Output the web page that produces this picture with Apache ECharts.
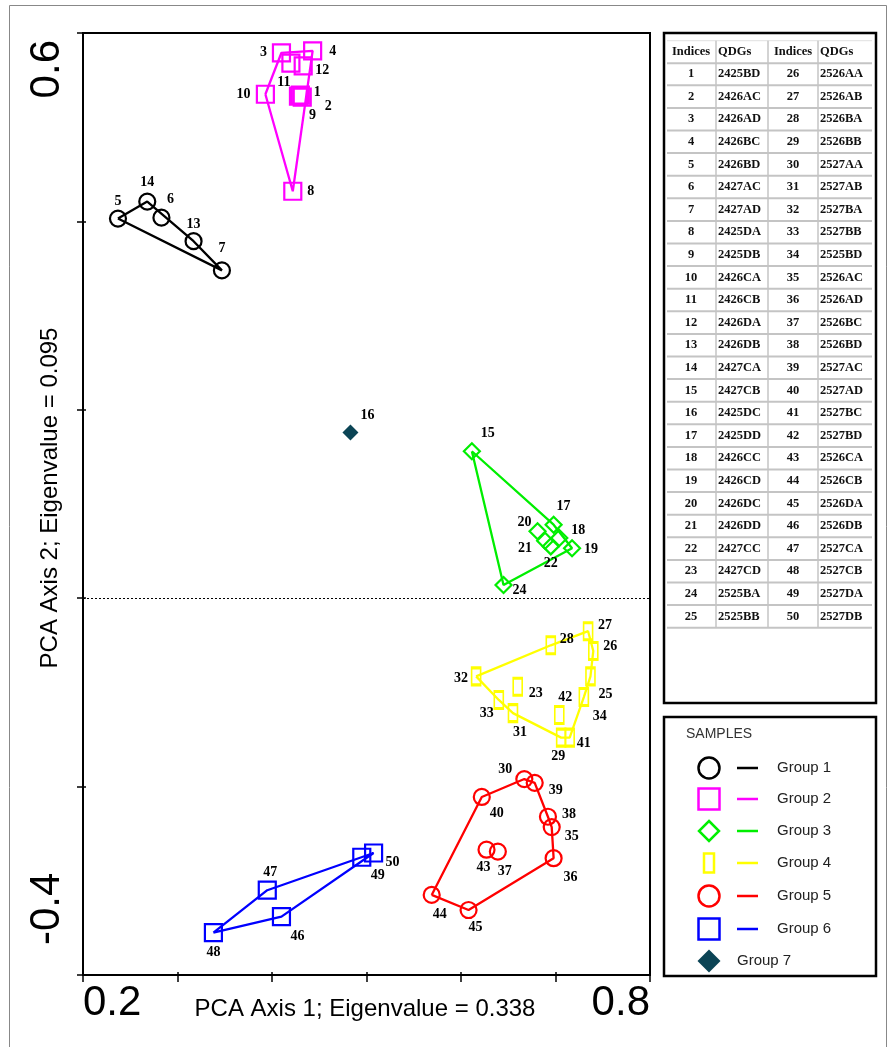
<!DOCTYPE html>
<html><head><meta charset="utf-8">
<script src="https://cdn.jsdelivr.net/npm/echarts@6/dist/echarts.min.js"></script>
<style>html,body{margin:0;padding:0;background:#fff}#c{width:888px;height:1047px}</style>
</head><body><div id="c"></div>
<script>
// ---------- DATA ----------
const groupNames = ['Group 1','Group 2','Group 3','Group 4','Group 5','Group 6','Group 7'];
// [sample index, PCA axis 1, PCA axis 2]
const group1 = [[5,0.237,0.403],[14,0.268,0.421],[6,0.283,0.404],[13,0.317,0.379],[7,0.347,0.348]];
const group2 = [[1,0.430,0.534],[2,0.432,0.532],[3,0.410,0.579],[4,0.443,0.581],[8,0.422,0.432],[9,0.428,0.533],[10,0.393,0.535],[11,0.420,0.568],[12,0.433,0.565]];
const group3 = [[15,0.6115,0.156],[17,0.698,0.078],[18,0.704,0.064],[19,0.7175,0.053],[20,0.681,0.071],[21,0.689,0.061],[22,0.695,0.055],[24,0.645,0.014]];
const group4 = [[23,0.660,-0.094],[25,0.737,-0.083],[26,0.740,-0.056],[27,0.7345,-0.035],[28,0.695,-0.050],[29,0.706,-0.148],[31,0.655,-0.122],[32,0.616,-0.083],[33,0.640,-0.108],[34,0.730,-0.105],[41,0.715,-0.148],[42,0.704,-0.124]];
const group5 = [[30,0.667,-0.192],[35,0.696,-0.243],[36,0.698,-0.276],[37,0.639,-0.269],[38,0.692,-0.232],[39,0.678,-0.196],[40,0.622,-0.211],[43,0.627,-0.267],[44,0.569,-0.315],[45,0.608,-0.331]];
const group6 = [[46,0.410,-0.338],[47,0.395,-0.310],[48,0.338,-0.355],[49,0.495,-0.275],[50,0.5075,-0.2705]];
const group7 = [[16,0.483,0.176]];
const xTickLabels = ['0.2','0.8'];
const yTickLabels = ['0.6','-0.4'];
const xAxisTitle = 'PCA Axis 1; Eigenvalue = 0.338';
const yAxisTitle = 'PCA Axis 2; Eigenvalue = 0.095';
const tableHeaders = ['Indices','QDGs','Indices','QDGs'];
const qdgCodes = ['2425BD','2426AC','2426AD','2426BC','2426BD','2427AC','2427AD','2425DA','2425DB','2426CA',
 '2426CB','2426DA','2426DB','2427CA','2427CB','2425DC','2425DD','2426CC','2426CD','2426DC',
 '2426DD','2427CC','2427CD','2525BA','2525BB','2526AA','2526AB','2526BA','2526BB','2527AA',
 '2527AB','2527BA','2527BB','2525BD','2526AC','2526AD','2526BC','2526BD','2527AC','2527AD',
 '2527BC','2527BD','2526CA','2526CB','2526DA','2526DB','2527CA','2527CB','2527DA','2527DB'];
const legendTitle = 'SAMPLES';

// ---------- STYLE ----------
const groups = [group1,group2,group3,group4,group5,group6,group7];
const groupStyles = [
  {color:'#000000', symbol:'circle', size:16, hollow:true},
  {color:'#ff00ff', symbol:'rect', size:17, hollow:true},
  {color:'#00ee00', symbol:'diamond', size:16, hollow:true},
  {color:'#ffff00', symbol:'rect', size:[9,17], hollow:true},
  {color:'#ff0000', symbol:'circle', size:16, hollow:true},
  {color:'#0000ff', symbol:'rect', size:17, hollow:true},
  {color:'#0b4455', symbol:'diamond', size:16, hollow:false}
];
const labelOffsets = {
  5:[0,-17],14:[0,-19],6:[9,-18],13:[0,-17],7:[0,-22],
  3:[-18,0],4:[20,0],11:[-7,19],12:[19,4],10:[-22,0],1:[17,-3],2:[26,9],9:[14,19],8:[18,0],
  16:[17,-17],
  15:[16,-18],17:[10,-18],20:[-13,-9],18:[19,-8],19:[19,1],21:[-20,8],22:[0,17],24:[16,5],
  27:[17,-6],28:[16,-6],26:[17,-5],32:[-15,2],23:[18,7],42:[6,-18],25:[15,18],34:[16,19],33:[-12,13],31:[7,19],41:[14,6],29:[-3,19],
  30:[-19,-10],39:[21,8],40:[15,16],38:[21,-2],35:[20,9],43:[-3,18],37:[7,20],36:[17,19],44:[8,19],45:[7,17],
  47:[3,-18],46:[16,20],48:[0,20],49:[16,18],50:[19,9]
};

function hull(pts){
  const p = pts.map(d=>[d[1],d[2]]).sort((a,b)=>a[0]-b[0]||a[1]-b[1]);
  if(p.length<3) return p;
  const cross=(o,a,b)=>(a[0]-o[0])*(b[1]-o[1])-(a[1]-o[1])*(b[0]-o[0]);
  const lo=[],up=[];
  for(const q of p){while(lo.length>=2&&cross(lo[lo.length-2],lo[lo.length-1],q)<=0)lo.pop();lo.push(q);}
  for(let i=p.length-1;i>=0;i--){const q=p[i];while(up.length>=2&&cross(up[up.length-2],up[up.length-1],q)<=0)up.pop();up.push(q);}
  up.pop();lo.pop();
  const h=lo.concat(up); h.push(h[0]); return h;
}

const chart = echarts.init(document.getElementById('c'), null, {renderer:'canvas'});
const series = [];
groups.forEach((g,i)=>{
  const st = groupStyles[i];
  if(i<6){
    series.push({type:'line', name:groupNames[i]+' hull', data:hull(g), symbol:'none', silent:true, z:2,
      lineStyle:{color:st.color, width:2.3}, animation:false});
  }
  series.push({type:'scatter', name:groupNames[i], symbol:st.symbol, symbolSize:st.size, z:3,
    itemStyle:{color: st.hollow?'rgba(0,0,0,0)':st.color, borderColor:st.color, borderWidth: st.hollow?2.2:0, opacity:1},
    label:{show:true, position:'inside', formatter:'{b}', color:'#000', fontFamily:'Liberation Serif', fontWeight:'bold', fontSize:14},
    data:g.map(d=>({name:String(d[0]), value:[d[1],d[2]], label:{offset:labelOffsets[d[0]]||[0,-16]}})),
    animation:false});
});
series[0].markLine = {silent:true, symbol:'none', label:{show:false}, animation:false,
  lineStyle:{type:[2,2], color:'#000', width:1}, data:[{yAxis:0}]};

const axisCommon = {type:'value', splitLine:{show:false}, axisLabel:{show:false}};
chart.setOption({
  backgroundColor:'#fff',
  animation:false,
  grid:{left:83, top:33, width:567, height:942, show:true, borderColor:'#000', borderWidth:2, backgroundColor:'transparent'},
  xAxis:[
    Object.assign({}, axisCommon, {min:0.2, max:0.8, interval:0.1, position:'bottom',
      axisLine:{show:true, onZero:false, lineStyle:{color:'#000', width:2}},
      axisTick:{show:true, length:7, lineStyle:{color:'#000', width:1.5}}}),
    Object.assign({}, axisCommon, {min:0.2, max:0.8, interval:0.1, position:'bottom', offset:0,
      axisLine:{show:true, onZero:false, lineStyle:{color:'rgba(0,0,0,0)', width:1}},
      axisTick:{show:true, inside:true, length:3, lineStyle:{color:'#000', width:1.5}}})
  ],
  yAxis:[
    Object.assign({}, axisCommon, {min:-0.4, max:0.6, interval:0.2, position:'left',
      axisLine:{show:true, onZero:false, lineStyle:{color:'#000', width:2}},
      axisTick:{show:true, length:6, lineStyle:{color:'#000', width:1.5}}}),
    Object.assign({}, axisCommon, {min:-0.4, max:0.6, interval:0.2, position:'left', offset:0,
      axisLine:{show:true, onZero:false, lineStyle:{color:'rgba(0,0,0,0)', width:1}},
      axisTick:{show:true, inside:true, length:3, lineStyle:{color:'#000', width:1.5}}})
  ],
  series: series
});

// ---------- GRAPHICS: axis labels, titles, table, legend ----------
const px = v => chart.convertToPixel({gridIndex:0}, v);
const g = [];
const bigFont = {fontFamily:'Liberation Sans', fontSize:42, fill:'#000'};
const xMinP = px([0.2,-0.4]), xMaxP = px([0.8,-0.4]);
g.push({type:'text', x:xMinP[0], y:xMinP[1]+28, style:Object.assign({text:xTickLabels[0], align:'left', verticalAlign:'middle'}, bigFont)});
g.push({type:'text', x:xMaxP[0], y:xMaxP[1]+28, style:Object.assign({text:xTickLabels[1], align:'right', verticalAlign:'middle'}, bigFont)});
const yMaxP = px([0.2,0.6]), yMinP = px([0.2,-0.4]);
g.push({type:'text', x:yMaxP[0]-36, y:yMaxP[1]+7, rotation:Math.PI/2, style:Object.assign({text:yTickLabels[0], align:'right', verticalAlign:'middle'}, bigFont)});
g.push({type:'text', x:yMinP[0]-36, y:yMinP[1]-30, rotation:Math.PI/2, style:Object.assign({text:yTickLabels[1], align:'left', verticalAlign:'middle'}, bigFont)});
g.push({type:'text', x:365, y:1009, style:{text:xAxisTitle, align:'center', verticalAlign:'middle', fontFamily:'Liberation Sans', fontSize:24, fill:'#000'}});
g.push({type:'text', x:50, y:498, rotation:Math.PI/2, style:{text:yAxisTitle, align:'center', verticalAlign:'middle', fontFamily:'Liberation Sans', fontSize:24, fill:'#000'}});
// outer frame
g.push({type:'rect', shape:{x:9.5, y:5.5, width:877, height:1060}, style:{fill:'none', stroke:'#888', lineWidth:1}, z:-1});

// table
const T = {left:664, top:33, width:212, height:670, cols:[716,768,818], x0:667, x1:872, hdrY:52, row0:74, rowH:22.6};
g.push({type:'rect', shape:{x:T.left, y:T.top, width:T.width, height:T.height}, style:{fill:'#fff', stroke:'#000', lineWidth:2.5}});
const tFont = {fontFamily:'Liberation Serif', fontWeight:'bold', fontSize:12.5, fill:'#111'};
const lastY = T.row0 + 24*T.rowH + T.rowH/2;
const firstY = T.hdrY - T.rowH/2;
for(let k=0;k<=25;k++){
  const yy = (k===0? T.hdrY + T.rowH/2 : T.row0 + (k-1)*T.rowH + T.rowH/2);
  g.push({type:'line', shape:{x1:T.x0, y1:yy, x2:T.x1, y2:yy}, style:{stroke:'#c4c4c4', lineWidth:2}});
}
g.push({type:'line', shape:{x1:T.x0, y1:firstY, x2:T.x1, y2:firstY}, style:{stroke:'#e0e0e0', lineWidth:1}});
T.cols.forEach(cx=>g.push({type:'line', shape:{x1:cx, y1:firstY, x2:cx, y2:lastY}, style:{stroke:'#c4c4c4', lineWidth:1.5}}));
const colText = [{x:691, align:'center'},{x:718, align:'left'},{x:793, align:'center'},{x:820, align:'left'}];
tableHeaders.forEach((h,i)=>g.push({type:'text', x:colText[i].x, y:T.hdrY, style:Object.assign({text:h, align:colText[i].align, verticalAlign:'middle'}, tFont)}));
for(let r=0;r<25;r++){
  const yy = T.row0 + r*T.rowH;
  g.push({type:'text', x:colText[0].x, y:yy, style:Object.assign({text:String(r+1), align:'center', verticalAlign:'middle'}, tFont)});
  g.push({type:'text', x:colText[1].x, y:yy, style:Object.assign({text:qdgCodes[r], align:'left', verticalAlign:'middle'}, tFont)});
  g.push({type:'text', x:colText[2].x, y:yy, style:Object.assign({text:String(r+26), align:'center', verticalAlign:'middle'}, tFont)});
  g.push({type:'text', x:colText[3].x, y:yy, style:Object.assign({text:qdgCodes[r+25], align:'left', verticalAlign:'middle'}, tFont)});
}

// legend
const L = {left:664, top:717, width:212, height:259, symX:709, lineX1:737, lineX2:758, textX:777, title:{x:686, y:734}, rowY:[768,799,831,863,896,929,961]};
g.push({type:'rect', shape:{x:L.left, y:L.top, width:L.width, height:L.height}, style:{fill:'#fff', stroke:'#000', lineWidth:2.5}});
g.push({type:'text', x:L.title.x, y:L.title.y, style:{text:legendTitle, align:'left', verticalAlign:'middle', fontFamily:'Liberation Sans', fontSize:14, fill:'#333'}});
const lFont = {fontFamily:'Liberation Sans', fontSize:15, fill:'#222'};
groupNames.forEach((name,i)=>{
  const st = groupStyles[i], y = L.rowY[i];
  const strokeSt = {fill:'none', stroke:st.color, lineWidth:2.5};
  if(st.symbol==='circle') g.push({type:'circle', shape:{cx:L.symX, cy:y, r:10.5}, style:strokeSt});
  else if(st.symbol==='rect' && Array.isArray(st.size)) g.push({type:'rect', shape:{x:L.symX-5, y:y-9.5, width:10, height:19}, style:strokeSt});
  else if(st.symbol==='rect') g.push({type:'rect', shape:{x:L.symX-10.5, y:y-10.5, width:21, height:21}, style:strokeSt});
  else if(st.symbol==='diamond'){
    const s = st.hollow?10:11.5;
    g.push({type:'polygon', shape:{points:[[L.symX,y-s],[L.symX+s,y],[L.symX,y+s],[L.symX-s,y]]},
      style: st.hollow? strokeSt : {fill:st.color, stroke:'none'}});
  }
  if(i<6){
    g.push({type:'line', shape:{x1:L.lineX1, y1:y, x2:L.lineX2, y2:y}, style:{stroke:st.color, lineWidth:2.5}});
    g.push({type:'text', x:L.textX, y:y, style:Object.assign({text:name, align:'left', verticalAlign:'middle'}, lFont)});
  } else {
    g.push({type:'text', x:737, y:y, style:Object.assign({text:name, align:'left', verticalAlign:'middle'}, lFont)});
  }
});
chart.setOption({graphic:{elements:g}});
</script>
</body></html>
